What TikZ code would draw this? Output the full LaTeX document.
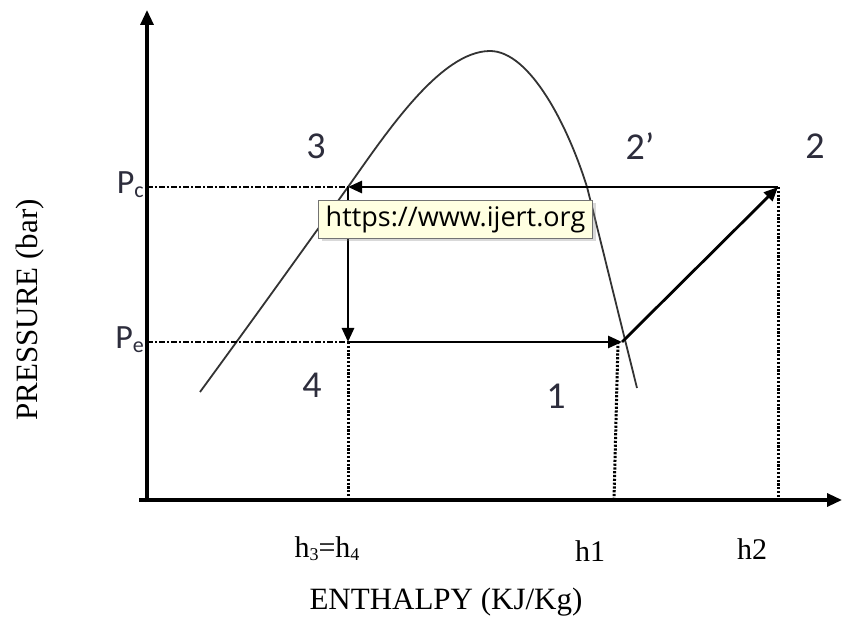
\documentclass[tikz,border=0pt]{standalone}
\usepackage{fontspec}
\setmainfont{Liberation Serif}
\newfontfamily\calib{Carlito}
\newfontfamily\tipfont{Open Sans}
\usetikzlibrary{arrows.meta, shadows}
\definecolor{lblgray}{RGB}{45,45,60}
\definecolor{tipfill}{RGB}{255,255,225}
\tikzset{
  axis/.style   = {line width=3.2pt, -{Triangle[length=15pt, width=13pt]}},
  cyc/.style    = {line width=2.8pt, -{Triangle[length=14pt, width=12pt]}},
  dome/.style   = {line width=1.8pt, black!80},
  hguide/.style = {line width=2.6pt, dash pattern=on 6pt off 2pt on 2pt off 2pt},
  vguide/.style = {line width=3pt, dash pattern=on 2.2pt off 1.6pt},
  stlab/.style  = {font=\calib\fontsize{38}{38}\selectfont, text=lblgray, inner sep=0pt},
  plab/.style   = {font=\calib\fontsize{34}{34}\selectfont, text=lblgray, inner sep=0pt},
  hlab/.style   = {font=\fontsize{30}{30}\selectfont, inner sep=0pt},
  axlab/.style  = {font=\fontsize{31}{31}\selectfont, inner sep=0pt},
  tip/.style    = {draw=black!55, fill=tipfill, inner sep=4pt, line width=1pt,
                   font=\tipfont\fontsize{27}{27}\selectfont,
                   drop shadow={shadow xshift=3pt, shadow yshift=-3pt, opacity=0.3}},
}
\begin{document}
\begin{tikzpicture}[x=1pt, y=-1pt]
\useasboundingbox (0,0) rectangle (844,620);
% cycle state points
\coordinate (O)  at (147,500);
\coordinate (p1) at (622,342);
\coordinate (p2) at (778,187);
\coordinate (p3) at (348,187);
\coordinate (p4) at (348,342);
\coordinate (pc) at (147,187);
\coordinate (pe) at (147,342);
\coordinate (h34) at (348,500);
\coordinate (h1) at (618,500);
\coordinate (h2) at (778,500);
\coordinate (ytop) at (147,10);
\coordinate (xend) at (842,500);
\coordinate (top) at (490,51);
\coordinate (sv) at (587,187);
% axes
\draw[axis] ([yshift=-2pt]O) -- (ytop);
\draw[axis] ([xshift=-8pt]O) -- (xend);
% saturation dome
\draw[dome] (200,392) .. controls (260,310) and (310,240) .. (p3)
  .. controls (385,135) and (440,51) .. (top)
  .. controls (530,51) and (568,126) .. (sv)
  .. controls (598,230) and (615,300) .. (637,388);
% guide lines
\draw[hguide] (pc) -- (p3);
\draw[hguide] (pe) -- (p4);
\draw[vguide] (p4) -- (h34);
\draw[vguide] ([xshift=-4pt]p1) -- ([xshift=-4pt]h1);
\draw[vguide] (p2) -- (h2);
% cycle
\draw[cyc] (p2) -- (p3);
\draw[cyc] (p3) -- (p4);
\draw[cyc] (p4) -- (p1);
\draw[cyc] (p1) -- (p2);
% labels
\node[stlab] (l3)  at (316,146) {3};
\node[stlab] (l2p) at (640,146) {2’};
\node[stlab] (l2)  at (815,146) {2};
\node[stlab] (l4)  at (312,385) {4};
\node[stlab] (l1)  at (556,396) {1};
\node[plab, anchor=east] (lpc) at (144,185) {P\raisebox{-0.25ex}{\fontsize{22}{22}\selectfont c}};
\node[plab, anchor=east] (lpe) at (144,340) {P\raisebox{-0.25ex}{\fontsize{22}{22}\selectfont e}};
\node[hlab] (lh34) at (327,549) {h\raisebox{-0.2ex}{\fontsize{18}{18}\selectfont 3}=h\raisebox{-0.2ex}{\fontsize{18}{18}\selectfont 4}};
\node[hlab] (lh1) at (590,551) {h1};
\node[hlab] (lh2) at (752,549) {h2};
\node[axlab] (xlab) at (446,602) {ENTHALPY (KJ/Kg)};
\node[axlab, rotate=90] (ylab) at (30,310) {PRESSURE (bar)};
% tooltip
\node[tip, anchor=north west, minimum width=274pt, minimum height=38pt] (tt) at (318,200) {https://www.ijert.org};
\end{tikzpicture}
\end{document}
